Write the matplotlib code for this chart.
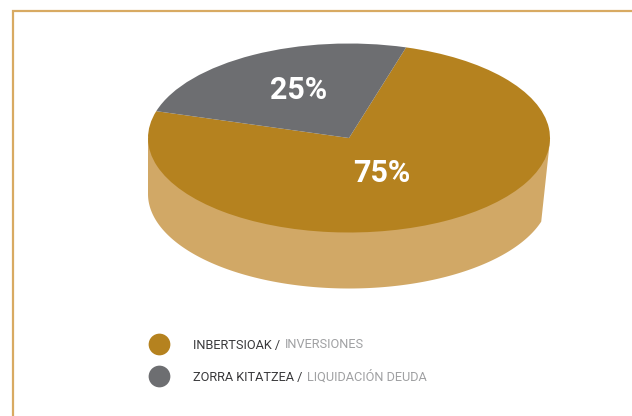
import numpy as np
import matplotlib
matplotlib.use('Agg')
from matplotlib import pyplot as plt

# datos del grafico
shares = [75, 25]
share_labels = ['75%', '25%']
colors = ['#B5821F', '#6D6E71']
names_eu = ['INBERTSIOAK /', 'ZORRA KITATZEA /']
names_es = ['INVERSIONES', 'LIQUIDACIÓN DEUDA']

W, H = 632, 416
fig = plt.figure(figsize=(W / 100, H / 100), dpi=100)

# capa de fondo en pixeles
bg = fig.add_axes([0, 0, 1, 1])
bg.set_xlim(0, W)
bg.set_ylim(H, 0)
bg.axis('off')

# marco (solo arriba e izquierda)
bg.plot([12.5, 12.5, W], [H, 10.5, 10.5], color='#D8AA62', lw=1.6, solid_joinstyle='miter')

# elipse superior
cx, cy, rx, ry, depth = 349, 138, 201, 94.5, 56

# pared lateral
t = np.radians(np.linspace(180, 343, 200))
side_x = np.r_[cx - rx, cx + rx * np.cos(t), cx + rx, cx]
side_y = np.r_[cy, cy + depth - ry * np.sin(t), cy + 2, cy]
bg.fill(side_x, side_y, color='#D1A866', lw=0)

# tarta plana, deformada a elipse
ax = fig.add_axes([(cx - rx) / W, 1 - (cy + ry) / H, 2 * rx / W, 2 * ry / H])
ax.pie(shares, colors=colors, startangle=73.5, counterclock=False, radius=1,
       wedgeprops={'linewidth': 0})
ax.set_aspect('auto')
ax.set_xlim(-1, 1)
ax.set_ylim(-1, 1)

# capa para textos encima de la tarta
top = fig.add_axes([0, 0, 1, 1])
top.set_xlim(0, W)
top.set_ylim(H, 0)
top.axis('off')

# etiquetas de porcentaje
label_pos = [(382, 173), (299, 90)]
for lab, (x, y) in zip(share_labels, label_pos):
    top.text(x, y, lab, color='white', fontsize=22, fontweight='bold', family='Roboto',
             ha='center', va='center')

# leyenda
legend_y = [344, 376]
for c, eu, es, y in zip(colors, names_eu, names_es, legend_y):
    top.scatter([159], [y], s=245, color=c, linewidths=0)
    t1 = top.text(193, y + 1, eu, color='#3A3A3C', fontsize=9.2,
                  family='Roboto', va='center')
    top.annotate(es, xy=(1, 0.5), xycoords=t1, color='#A0A1A3', fontsize=9.2,
                 family='Roboto', va='center', xytext=(3.4, 0),
                 textcoords='offset points')

plt.savefig('out.png', dpi=100)
